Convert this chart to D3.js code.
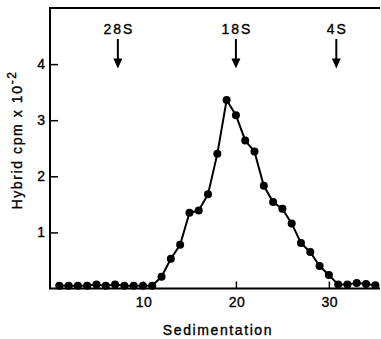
<!DOCTYPE html>
<html>
<head>
<meta charset="utf-8">
<script src="https://cdn.jsdelivr.net/npm/d3@7"></script>
<style>
  body { margin: 0; background: #fff; }
  text { font-family: "Liberation Sans", Arial, sans-serif; fill: #000; stroke: #000; stroke-width: 0.35px; }
</style>
</head>
<body>
<div id="chart"></div>
<script>
// sedimentation profile, hybrid cpm x 10^-2 per fraction

var width = 381,
    height = 339;

var fractions = [1, 2, 3, 4, 5, 6, 7, 8, 9, 10, 11, 12, 13, 14, 15, 16, 17, 18,
                 19, 20, 21, 22, 23, 24, 25, 26, 27, 28, 29, 30, 31, 32, 33, 34, 35];
var cpm = [0.05, 0.05, 0.05, 0.05, 0.07, 0.05, 0.07, 0.05, 0.05, 0.05, 0.05, 0.21, 0.53, 0.78,
           1.35, 1.39, 1.68, 2.40, 3.36, 3.09, 2.64, 2.44, 1.83, 1.54, 1.42, 1.16, 0.81, 0.65,
           0.40, 0.24, 0.07, 0.07, 0.10, 0.08, 0.06];

var xTicks = [10, 20, 30];
var yTicks = [1, 2, 3, 4];

// marker arrows
var markerNames = ["28S", "18S", "4S"];
var markerPos = [7.3, 20, 30.8];

var x = d3.scaleLinear().domain([0, 35.5]).range([50, 380]);
var y = d3.scaleLinear().domain([0, 5]).range([288.5, 8]);

var svg = d3.select("#chart").append("svg")
    .attr("width", width)
    .attr("height", height);

// frame: left, top, bottom
svg.append("path")
    .attr("d", "M" + x(35.5) + "," + y(5) + "H" + x(0) + "V" + y(0) + "H" + x(35.5))
    .attr("fill", "none")
    .attr("stroke", "#000")
    .attr("stroke-width", 2);

// axes with inward ticks
var xAxis = svg.append("g")
    .attr("transform", "translate(0," + y(0) + ")")
    .call(d3.axisTop(x).tickValues(xTicks).tickSize(7).tickFormat(""));
xAxis.select(".domain").remove();
xAxis.selectAll("line").attr("stroke-width", 1.5);

svg.selectAll(".xlab")
  .data(xTicks)
  .enter().append("text")
    .attr("class", "xlab")
    .attr("x", function(d) { return x(d) + 1; })
    .attr("y", 307)
    .attr("text-anchor", "middle")
    .style("font-size", "14px")
    .style("letter-spacing", "0.5px")
    .text(function(d) { return d; });

var yAxis = svg.append("g")
    .attr("transform", "translate(" + x(0) + ",0)")
    .call(d3.axisRight(y).tickValues(yTicks).tickSize(8).tickFormat(""));
yAxis.select(".domain").remove();
yAxis.selectAll("line").attr("stroke-width", 1.5);

svg.selectAll(".ylab")
  .data(yTicks)
  .enter().append("text")
    .attr("class", "ylab")
    .attr("x", 45)
    .attr("y", function(d) { return y(d) + 5; })
    .attr("text-anchor", "end")
    .style("font-size", "14px")
    .text(function(d) { return d; });

// axis titles
svg.append("text")
    .attr("x", 218)
    .attr("y", 335)
    .attr("text-anchor", "middle")
    .style("font-size", "14px")
    .style("letter-spacing", "1.6px")
    .text("Sedimentation");

var yt = svg.append("text")
    .attr("transform", "translate(22,140) rotate(-90)")
    .attr("text-anchor", "middle")
    .style("font-size", "14px")
    .style("letter-spacing", "1.6px");
yt.append("tspan").text("Hybrid cpm x 10");
yt.append("tspan").attr("dy", -6).style("font-size", "12px").text("-2");

// profile line + dots
var line = d3.line()
    .x(function(d, i) { return x(fractions[i]); })
    .y(function(d) { return y(d); });

svg.append("path")
    .datum(cpm)
    .attr("d", line)
    .attr("fill", "none")
    .attr("stroke", "#000")
    .attr("stroke-width", 2);

svg.selectAll(".dot")
  .data(cpm)
  .enter().append("circle")
    .attr("class", "dot")
    .attr("cx", function(d, i) { return x(fractions[i]); })
    .attr("cy", function(d) { return y(d); })
    .attr("r", 4)
    .attr("fill", "#000");

// arrows
var mk = svg.selectAll(".marker")
  .data(markerPos)
  .enter().append("g")
    .attr("class", "marker")
    .attr("transform", function(d) { return "translate(" + x(d) + ",0)"; });

mk.append("text")
    .attr("x", 1)
    .attr("y", 34)
    .attr("text-anchor", "middle")
    .style("font-size", "14px")
    .style("letter-spacing", "2px")
    .text(function(d, i) { return markerNames[i]; });

mk.append("line")
    .attr("y1", 39).attr("y2", 60)
    .attr("stroke", "#000")
    .attr("stroke-width", 2);

mk.append("path")
    .attr("d", "M-4.5,58.5L4.5,58.5L0,68.5Z")
    .attr("fill", "#000");
</script>
</body>
</html>
